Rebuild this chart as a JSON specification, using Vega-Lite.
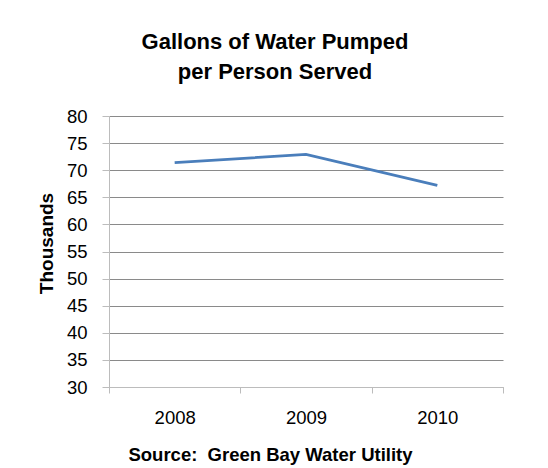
{
  "$schema": "https://vega.github.io/schema/vega-lite/v6.json",
  "width": 394,
  "height": 271,
  "autosize": "none",
  "padding": {"left": 109, "top": 116, "right": 45, "bottom": 81},
  "background": "white",
  "config": {
    "view": {"stroke": null},
    "font": "Liberation Sans"
  },
  "title": {
    "text": ["Gallons of Water Pumped", "per Person Served"],
    "fontSize": 22,
    "fontWeight": "bold",
    "font": "Liberation Sans",
    "color": "#000000",
    "anchor": "middle",
    "dx": -31,
    "lineHeight": 30,
    "offset": 23
  },
  "data": {
    "values": [
      {"year": "2008", "value": 71.4},
      {"year": "2009", "value": 72.9},
      {"year": "2010", "value": 67.2}
    ]
  },
  "mark": {"type": "line", "color": "#4a7ebb", "strokeWidth": 2.75},
  "encoding": {
    "x": {
      "field": "year",
      "type": "nominal",
      "scale": {"paddingInner": 0, "paddingOuter": 0},
      "axis": {
        "labelAngle": 0,
        "labelFontSize": 18.5,
        "labelColor": "#000000",
        "labelPadding": 15,
        "tickBand": "extent",
        "tickSize": 6,
        "tickColor": "#bcbcbc",
        "domainColor": "#bcbcbc",
        "grid": false,
        "title": "Source:\u00a0 Green Bay Water Utility",
        "titleFontSize": 18.5,
        "titleFontWeight": "bold",
        "titleColor": "#000000",
        "titleX": 161,
        "titleY": 73,
        "titleBaseline": "alphabetic",
        "titleAnchor": null
      }
    },
    "y": {
      "field": "value",
      "type": "quantitative",
      "scale": {"domain": [30, 80], "nice": false, "zero": false},
      "axis": {
        "values": [30, 35, 40, 45, 50, 55, 60, 65, 70, 75, 80],
        "labelFontSize": 18.5,
        "labelColor": "#000000",
        "labelPadding": 15,
        "tickSize": 7,
        "tickColor": "#bcbcbc",
        "domainColor": "#bcbcbc",
        "grid": true,
        "gridColor": "#8a8a8a",
        "title": "Thousands",
        "titleFontSize": 19,
        "titleFontWeight": "bold",
        "titleColor": "#000000",
        "titleAngle": 270,
        "titleX": -57,
        "titleY": 127,
        "titleAlign": "center",
        "titleBaseline": "alphabetic"
      }
    }
  }
}
